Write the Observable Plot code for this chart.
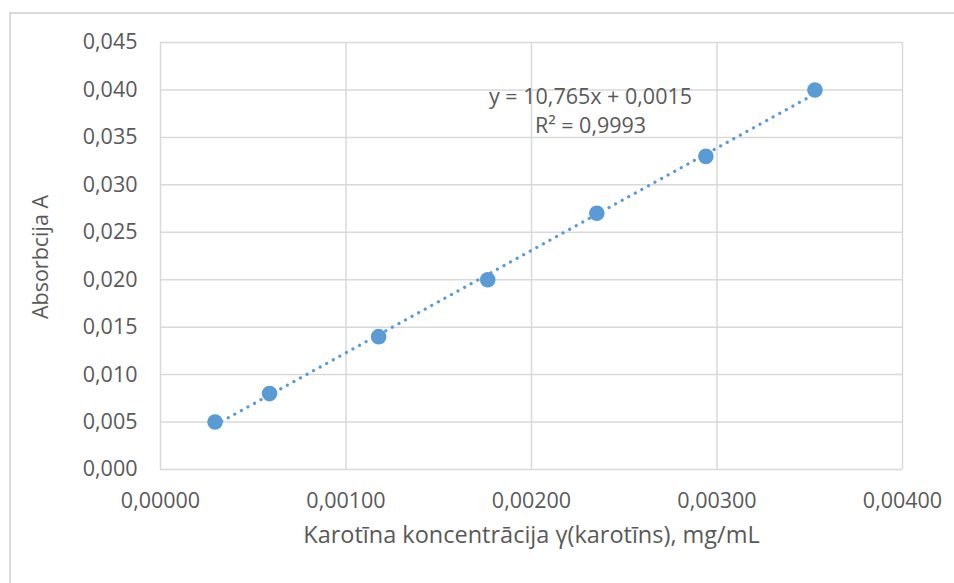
<!DOCTYPE html>
<html>
<head>
<meta charset="utf-8">
<script src="https://cdn.jsdelivr.net/npm/d3@7"></script>
<script src="https://cdn.jsdelivr.net/npm/@observablehq/plot@0.6"></script>
<style>
  html, body { margin: 0; padding: 0; background: #fff; overflow: hidden; }
  #wrap { position: relative; width: 954px; height: 583px; overflow: hidden; }
  #border { position: absolute; left: 9px; top: 12px; width: 2000px; height: 2000px; border: 2px solid #d9d9d9; box-sizing: border-box; }
  #chart { position: absolute; left: 0; top: 0; }
</style>
</head>
<body>
<div id="wrap"><div id="border"></div><div id="chart"></div></div>
<script>
// Data
const concentration = [0.000294, 0.000588, 0.001176, 0.001764, 0.002352, 0.00294, 0.003528];
const absorbance = [0.005, 0.008, 0.014, 0.020, 0.027, 0.033, 0.040];
const xTicks = [0, 0.001, 0.002, 0.003, 0.004];
const yTicks = [0, 0.005, 0.010, 0.015, 0.020, 0.025, 0.030, 0.035, 0.040, 0.045];
const equationText = "y = 10,765x + 0,0015";
const r2Text = "R² = 0,9993";
const xLabel = "Karotīna koncentrācija γ(karotīns), mg/mL";
const yLabel = "Absorbcija A";

const points = concentration.map((x, i) => ({x, y: absorbance[i]}));
const locale = d3.formatLocale({decimal: ",", thousands: " ", grouping: [3], currency: ["", ""]});
const fx = locale.format(".5f");
const fy = locale.format(".3f");

const font = "'Open Sans', sans-serif";
const textColor = "#595959";
const grid = "#d9d9d9";
const blue = "#5b9bd5";

const plot = Plot.plot({
  width: 954,
  height: 583,
  marginLeft: 160,
  marginRight: 52,
  marginTop: 42,
  marginBottom: 114,
  style: {fontFamily: font, background: "transparent", overflow: "visible"},
  x: {domain: [0, 0.004]},
  y: {domain: [0, 0.045]},
  marks: [
    Plot.gridX(xTicks, {stroke: grid, strokeOpacity: 1, strokeWidth: 1.5}),
    Plot.gridY(yTicks, {stroke: grid, strokeOpacity: 1, strokeWidth: 1.5}),
    Plot.axisX(xTicks, {tickSize: 0, tickPadding: 23, tickFormat: fx, fontSize: 21.5, fill: textColor, label: null}),
    Plot.axisY(yTicks, {tickSize: 0, tickPadding: 23, tickFormat: fy, fontSize: 21.5, fill: textColor, label: null}),
    Plot.dot(points, {x: "x", y: "y", r: 7.8, fill: blue, stroke: "none"}),
    Plot.linearRegressionY(points, {x: "x", y: "y", ci: 0, stroke: blue, strokeWidth: 3.2, strokeDasharray: "0.1 7.4", strokeLinecap: "round"}),
    Plot.text([equationText], {frameAnchor: "top", dx: 59, dy: 46, fontSize: 21.5, fill: textColor}),
    Plot.text([r2Text], {frameAnchor: "top", dx: 59, dy: 75, fontSize: 21.5, fill: textColor}),
    Plot.text([xLabel], {frameAnchor: "bottom", dy: 73, fontSize: 23.5, fill: textColor, textAnchor: "middle"}),
    Plot.text([yLabel], {frameAnchor: "left", dx: -119, dy: 1, rotate: -90, fontSize: 21.5, fill: textColor, textAnchor: "middle"})
  ]
});
document.getElementById("chart").appendChild(plot);
</script>
</body>
</html>
